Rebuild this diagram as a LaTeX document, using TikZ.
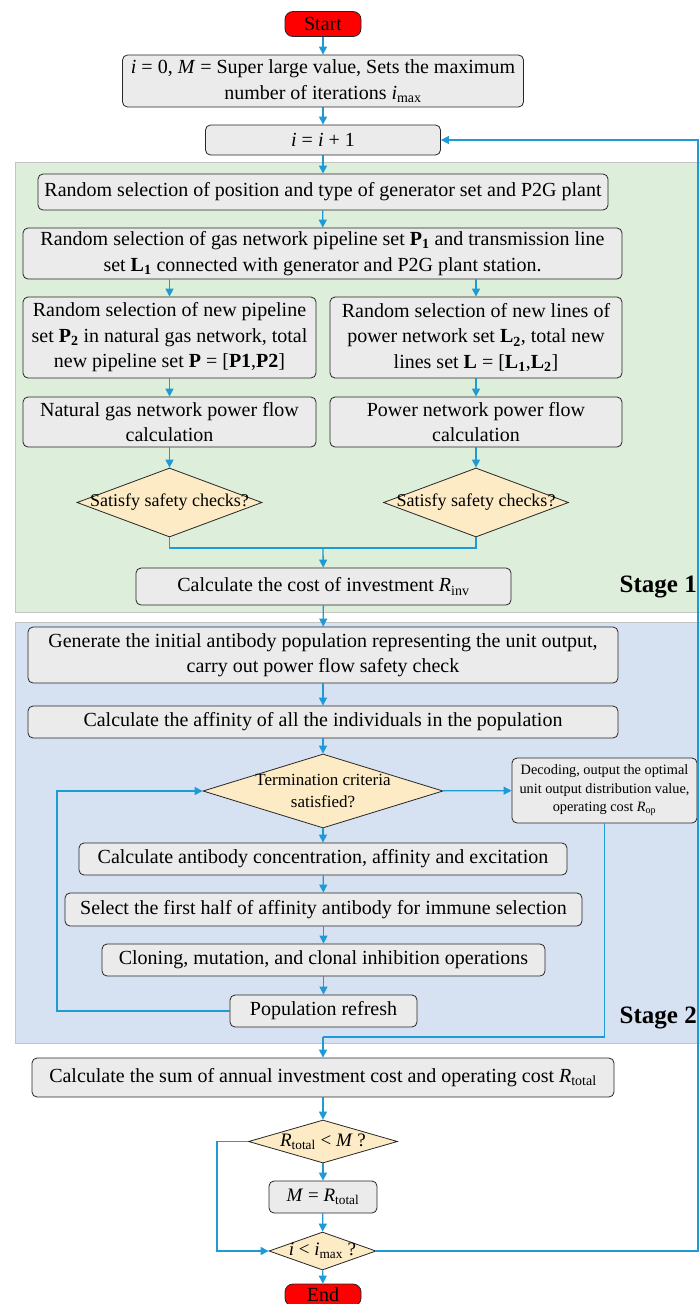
\documentclass[tikz,border=0pt]{standalone}
\usepackage{fontspec}
\setmainfont{Liberation Serif}
\usetikzlibrary{arrows.meta,shapes.geometric}
\definecolor{arrowblue}{HTML}{1E9AD6}
\definecolor{boxgray}{HTML}{EBEBEB}
\definecolor{diayellow}{HTML}{FDEBC6}
\definecolor{greenbg}{HTML}{DDEEDA}
\definecolor{bluebg}{HTML}{D6E2F2}
\definecolor{regionborder}{HTML}{C4C4C4}
\definecolor{startred}{HTML}{FF0000}
\newcommand{\mx}{\textsubscript{max}}
\tikzset{
  base/.style={font=\fontsize{20}{25.5}\selectfont},
  box/.style={base, draw=black!85, fill=boxgray, rounded corners=5pt, line width=0.8pt, align=center, inner sep=0pt},
  term/.style={box, fill=startred, rounded corners=8pt},
  dia/.style={diamond, draw=black!85, fill=diayellow, line width=0.8pt, inner sep=0pt},
  arr/.style={draw=arrowblue, line width=1.3pt, -{Triangle[length=8pt,width=8pt]}},
  ln/.style={draw=arrowblue, line width=1.3pt},
  region/.style={draw=regionborder, line width=0.8pt},
  stage/.style={font=\fontsize{25}{30}\selectfont\bfseries, anchor=east, inner sep=0pt}
}
\begin{document}
\begin{tikzpicture}[x=1pt,y=-1pt]
\useasboundingbox (0,0) rectangle (699,1304);
% regions
\fill[white] (0,0) rectangle (699,1304);
\draw[region, fill=greenbg] (15,162) rectangle (705,612);
\draw[region, fill=bluebg] (15,622) rectangle (705,1043);
\node[stage] (s1) at (697,587) {Stage 1};
\node[stage] (s2) at (697,1018) {Stage 2};

% nodes
\node[term, minimum width=76, minimum height=25] (start) at (323,24) {Start};
\node[box, minimum width=401, minimum height=52] (b1) at (323,81)
  {\textit{i} = 0, \textit{M} = Super large value, Sets the maximum\\number of iterations \textit{i}\mx};
\node[box, minimum width=235, minimum height=30] (b2) at (323,140) {\textit{i} = \textit{i} + 1};
\node[box, minimum width=570, minimum height=36] (b3) at (323,192)
  {Random selection of position and type of generator set and P2G plant};
\node[box, minimum width=599, minimum height=51] (b4) at (322.5,253.5)
  {Random selection of gas network pipeline set \textbf{P}\textsubscript{\textbf{1}} and transmission line\\set \textbf{L}\textsubscript{\textbf{1}} connected with generator and P2G plant station.};
\node[box, minimum width=293, minimum height=81] (b5l) at (169.5,337.5)
  {Random selection of new pipeline\\set \textbf{P}\textsubscript{\textbf{2}} in natural gas network, total\\new pipeline set \textbf{P} = [\textbf{P1},\textbf{P2}]};
\node[box, minimum width=292, minimum height=81] (b5r) at (476,337.5)
  {Random selection of new lines of\\power network set \textbf{L}\textsubscript{\textbf{2}}, total new\\lines set \textbf{L} = [\textbf{L}\textsubscript{\textbf{1}},\textbf{L}\textsubscript{\textbf{2}}]};
\node[box, minimum width=293, minimum height=50] (b6l) at (169.5,422)
  {Natural gas network power flow\\calculation};
\node[box, minimum width=292, minimum height=50] (b6r) at (476,422)
  {Power network power flow\\calculation};
\node[dia, minimum width=185, minimum height=69,
  label={[font=\fontsize{18}{22}\selectfont]center:Satisfy safety checks?}] (d1) at (169.5,502.5) {};
\node[dia, minimum width=185, minimum height=69,
  label={[font=\fontsize{18}{22}\selectfont]center:Satisfy safety checks?}] (d2) at (476,502.5) {};
\coordinate (m1) at (323,548);
\node[box, minimum width=375, minimum height=37] (b7) at (323.5,586.5)
  {Calculate the cost of investment \textit{R}\textsubscript{inv}};

\node[box, minimum width=590, minimum height=56] (b8) at (323,655)
  {Generate the initial antibody population representing the unit output,\\carry out power flow safety check};
\node[box, minimum width=590, minimum height=32] (b9) at (323,722)
  {Calculate the affinity of all the individuals in the population};
\node[dia, minimum width=240, minimum height=74,
  label={[font=\fontsize{17}{22}\selectfont, align=center]center:Termination criteria\\satisfied?}] (d3) at (323,791) {};
\node[box, minimum width=185, minimum height=65, font=\fontsize{14.3}{18.5}\selectfont] (b10) at (604.5,790.5)
  {Decoding, output the optimal\\unit output distribution value,\\operating cost \textit{R}\textsubscript{op}};
\node[box, minimum width=488, minimum height=32] (b11) at (323,859)
  {Calculate antibody concentration, affinity and excitation};
\node[box, minimum width=517, minimum height=33] (b12) at (323.5,909.5)
  {Select the first half of affinity antibody for immune selection};
\node[box, minimum width=443, minimum height=32] (b13) at (323.5,960)
  {Cloning, mutation, and clonal inhibition operations};
\node[box, minimum width=187, minimum height=32] (b14) at (323.5,1011)
  {Population refresh};
\coordinate (lp) at (57,1011);
\coordinate (j2) at (323,1037);

\node[box, minimum width=582, minimum height=39] (b15) at (323,1077.5)
  {Calculate the sum of annual investment cost and operating cost \textit{R}\textsubscript{total}};
\node[dia, minimum width=149, minimum height=43,
  label={[font=\fontsize{19}{22}\selectfont]center:\textit{R}\textsubscript{total} < \textit{M} ?}] (d4) at (323,1141.5) {};
\node[box, minimum width=108, minimum height=32, font=\fontsize{19}{22}\selectfont] (b16) at (323,1197)
  {\textit{M} = \textit{R}\textsubscript{total}};
\node[dia, minimum width=107, minimum height=38,
  label={[font=\fontsize{19}{22}\selectfont]center:\textit{i} < \textit{i}\mx\ ?}] (d5) at (322.5,1251) {};
\node[term, minimum width=76, minimum height=22] (end) at (323,1295) {End};
\coordinate (lb) at (217,1141.5);
\coordinate (rr) at (698,1251);

% connectors
\draw[arr] (start) -- (b1);
\draw[arr] (b1) -- (b2);
\draw[arr] (b2) -- (b3);
\draw[arr] (b3) -- (b4);
\draw[arr] (b4.south -| b5l) -- (b5l);
\draw[arr] (b4.south -| b5r) -- (b5r);
\draw[arr] (b5l) -- (b6l);
\draw[arr] (b5r) -- (b6r);
\draw[arr] (b6l) -- (d1);
\draw[arr] (b6r) -- (d2);
\draw[ln] (d1.south) |- (m1) -| (d2.south);
\draw[arr] (m1) -- (b7);
\draw[arr] (b7) -- (b8);
\draw[arr] (b8) -- (b9);
\draw[arr] (b9) -- (d3);
\draw[arr] (d3) -- (b10);
\draw[arr] (d3) -- (b11);
\draw[arr] (b11) -- (b12);
\draw[arr] (b12) -- (b13);
\draw[arr] (b13) -- (b14);
\draw[arr] (b14.west) -- (lp) |- (d3.west);
\draw[ln] (b10.south) |- (j2);
\draw[arr] (j2) -- (b15);
\draw[arr] (b15) -- (d4);
\draw[arr] (d4) -- (b16);
\draw[arr] (b16) -- (d5);
\draw[arr] (d4.west) -- (lb) |- (d5.west);
\draw[arr] (d5) -- (end);
\draw[arr] (d5.east) -- (rr) |- (b2.east);
\end{tikzpicture}
\end{document}
